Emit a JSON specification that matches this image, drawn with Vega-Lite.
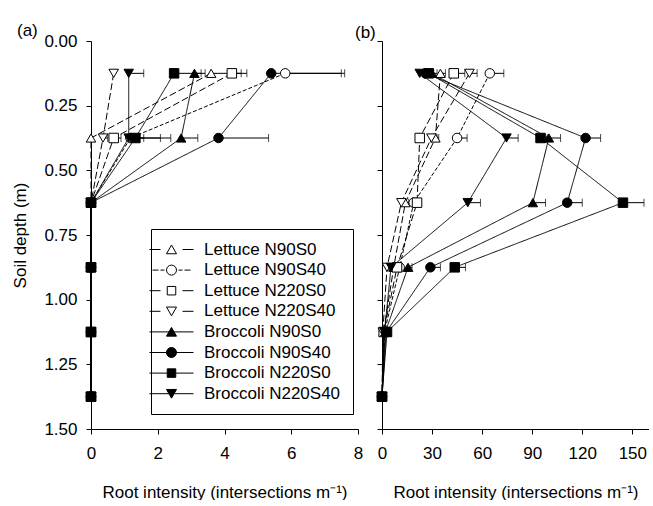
{
  "$schema": "https://vega.github.io/schema/vega-lite/v6.json",
  "padding": {"left": 11, "top": 22, "right": 0, "bottom": 0},
  "bounds": "flush",
  "spacing": 24,
  "background": "white",
  "config": {
    "font": "Liberation Sans",
    "view": {"stroke": null},
    "axis": {
      "domainColor": "black", "tickColor": "black", "labelColor": "black", "titleColor": "black",
      "labelFontSize": 17, "titleFontSize": 17, "titleFontWeight": "normal", "grid": false,
      "tickSize": 5, "labelFont": "Liberation Sans", "titleFont": "Liberation Sans", "domainWidth": 1, "tickWidth": 1
    },
    "title": {"fontSize": 17, "fontWeight": "normal", "anchor": "start", "color": "black", "font": "Liberation Sans", "frame": "group"}
  },
  "datasets": {
    "a": [
      {"series": "Lettuce N90S0", "depth": 0.125, "value": 3.60, "upper": 4.50},
      {"series": "Lettuce N90S40", "depth": 0.125, "value": 5.82, "upper": 7.60},
      {"series": "Lettuce N220S0", "depth": 0.125, "value": 4.22, "upper": 4.67},
      {"series": "Lettuce N220S40", "depth": 0.125, "value": 0.68, "upper": 0.68},
      {"series": "Broccoli N90S0", "depth": 0.125, "value": 3.10, "upper": 3.42},
      {"series": "Broccoli N90S40", "depth": 0.125, "value": 5.40, "upper": 7.50},
      {"series": "Broccoli N220S0", "depth": 0.125, "value": 2.49, "upper": 3.30},
      {"series": "Broccoli N220S40", "depth": 0.125, "value": 1.13, "upper": 1.58},
      {"series": "Lettuce N90S0", "depth": 0.375, "value": 0.00, "upper": 0.00},
      {"series": "Lettuce N90S40", "depth": 0.375, "value": 1.18, "upper": 1.58},
      {"series": "Lettuce N220S0", "depth": 0.375, "value": 0.68, "upper": 0.90},
      {"series": "Lettuce N220S40", "depth": 0.375, "value": 0.36, "upper": 0.50},
      {"series": "Broccoli N90S0", "depth": 0.375, "value": 2.70, "upper": 3.20},
      {"series": "Broccoli N90S40", "depth": 0.375, "value": 3.82, "upper": 5.32},
      {"series": "Broccoli N220S0", "depth": 0.375, "value": 1.33, "upper": 2.08},
      {"series": "Broccoli N220S40", "depth": 0.375, "value": 1.13, "upper": 2.39},
      {"series": "Lettuce N90S0", "depth": 0.625, "value": 0, "upper": 0},
      {"series": "Lettuce N90S40", "depth": 0.625, "value": 0, "upper": 0},
      {"series": "Lettuce N220S0", "depth": 0.625, "value": 0, "upper": 0},
      {"series": "Lettuce N220S40", "depth": 0.625, "value": 0, "upper": 0},
      {"series": "Broccoli N90S0", "depth": 0.625, "value": 0, "upper": 0},
      {"series": "Broccoli N90S40", "depth": 0.625, "value": 0, "upper": 0},
      {"series": "Broccoli N220S0", "depth": 0.625, "value": 0, "upper": 0},
      {"series": "Broccoli N220S40", "depth": 0.625, "value": 0, "upper": 0},
      {"series": "Lettuce N90S0", "depth": 0.875, "value": 0, "upper": 0},
      {"series": "Lettuce N90S40", "depth": 0.875, "value": 0, "upper": 0},
      {"series": "Lettuce N220S0", "depth": 0.875, "value": 0, "upper": 0},
      {"series": "Lettuce N220S40", "depth": 0.875, "value": 0, "upper": 0},
      {"series": "Broccoli N90S0", "depth": 0.875, "value": 0, "upper": 0},
      {"series": "Broccoli N90S40", "depth": 0.875, "value": 0, "upper": 0},
      {"series": "Broccoli N220S0", "depth": 0.875, "value": 0, "upper": 0},
      {"series": "Broccoli N220S40", "depth": 0.875, "value": 0, "upper": 0},
      {"series": "Lettuce N90S0", "depth": 1.125, "value": 0, "upper": 0},
      {"series": "Lettuce N90S40", "depth": 1.125, "value": 0, "upper": 0},
      {"series": "Lettuce N220S0", "depth": 1.125, "value": 0, "upper": 0},
      {"series": "Lettuce N220S40", "depth": 1.125, "value": 0, "upper": 0},
      {"series": "Broccoli N90S0", "depth": 1.125, "value": 0, "upper": 0},
      {"series": "Broccoli N90S40", "depth": 1.125, "value": 0, "upper": 0},
      {"series": "Broccoli N220S0", "depth": 1.125, "value": 0, "upper": 0},
      {"series": "Broccoli N220S40", "depth": 1.125, "value": 0, "upper": 0},
      {"series": "Lettuce N90S0", "depth": 1.375, "value": 0, "upper": 0},
      {"series": "Lettuce N90S40", "depth": 1.375, "value": 0, "upper": 0},
      {"series": "Lettuce N220S0", "depth": 1.375, "value": 0, "upper": 0},
      {"series": "Lettuce N220S40", "depth": 1.375, "value": 0, "upper": 0},
      {"series": "Broccoli N90S0", "depth": 1.375, "value": 0, "upper": 0},
      {"series": "Broccoli N90S40", "depth": 1.375, "value": 0, "upper": 0},
      {"series": "Broccoli N220S0", "depth": 1.375, "value": 0, "upper": 0},
      {"series": "Broccoli N220S40", "depth": 1.375, "value": 0, "upper": 0}
    ],
    "b": [
      {"series": "Lettuce N90S0", "depth": 0.125, "value": 35, "upper": 38},
      {"series": "Lettuce N90S40", "depth": 0.125, "value": 64.6, "upper": 73},
      {"series": "Lettuce N220S0", "depth": 0.125, "value": 43, "upper": 49.6},
      {"series": "Lettuce N220S40", "depth": 0.125, "value": 52.4, "upper": 57},
      {"series": "Broccoli N90S0", "depth": 0.125, "value": 30, "upper": 33},
      {"series": "Broccoli N90S40", "depth": 0.125, "value": 26, "upper": 29},
      {"series": "Broccoli N220S0", "depth": 0.125, "value": 28, "upper": 31},
      {"series": "Broccoli N220S40", "depth": 0.125, "value": 22.6, "upper": 25},
      {"series": "Lettuce N90S0", "depth": 0.375, "value": 32, "upper": 34},
      {"series": "Lettuce N90S40", "depth": 0.375, "value": 45, "upper": 51},
      {"series": "Lettuce N220S0", "depth": 0.375, "value": 22.6, "upper": 25},
      {"series": "Lettuce N220S40", "depth": 0.375, "value": 29.6, "upper": 33},
      {"series": "Broccoli N90S0", "depth": 0.375, "value": 100, "upper": 107},
      {"series": "Broccoli N90S40", "depth": 0.375, "value": 122, "upper": 131},
      {"series": "Broccoli N220S0", "depth": 0.375, "value": 95, "upper": 99},
      {"series": "Broccoli N220S40", "depth": 0.375, "value": 74.6, "upper": 81.6},
      {"series": "Lettuce N90S0", "depth": 0.625, "value": 14, "upper": 16},
      {"series": "Lettuce N90S40", "depth": 0.625, "value": 19, "upper": 21},
      {"series": "Lettuce N220S0", "depth": 0.625, "value": 21, "upper": 23},
      {"series": "Lettuce N220S40", "depth": 0.625, "value": 11.6, "upper": 13},
      {"series": "Broccoli N90S0", "depth": 0.625, "value": 90.4, "upper": 98},
      {"series": "Broccoli N90S40", "depth": 0.625, "value": 111, "upper": 120},
      {"series": "Broccoli N220S0", "depth": 0.625, "value": 144.4, "upper": 157},
      {"series": "Broccoli N220S40", "depth": 0.625, "value": 51.4, "upper": 59},
      {"series": "Lettuce N90S0", "depth": 0.875, "value": 7, "upper": 8},
      {"series": "Lettuce N90S40", "depth": 0.875, "value": 10.6, "upper": 12},
      {"series": "Lettuce N220S0", "depth": 0.875, "value": 9, "upper": 10},
      {"series": "Lettuce N220S40", "depth": 0.875, "value": 3, "upper": 4},
      {"series": "Broccoli N90S0", "depth": 0.875, "value": 15.6, "upper": 18},
      {"series": "Broccoli N90S40", "depth": 0.875, "value": 29, "upper": 35},
      {"series": "Broccoli N220S0", "depth": 0.875, "value": 43.6, "upper": 50},
      {"series": "Broccoli N220S40", "depth": 0.875, "value": 5.4, "upper": 6.5},
      {"series": "Lettuce N90S0", "depth": 1.125, "value": 1, "upper": 1},
      {"series": "Lettuce N90S40", "depth": 1.125, "value": 1.5, "upper": 1.5},
      {"series": "Lettuce N220S0", "depth": 1.125, "value": 1, "upper": 1},
      {"series": "Lettuce N220S40", "depth": 1.125, "value": 0.5, "upper": 0.5},
      {"series": "Broccoli N90S0", "depth": 1.125, "value": 2, "upper": 2},
      {"series": "Broccoli N90S40", "depth": 1.125, "value": 2.5, "upper": 2.5},
      {"series": "Broccoli N220S0", "depth": 1.125, "value": 3, "upper": 3},
      {"series": "Broccoli N220S40", "depth": 1.125, "value": 1.5, "upper": 1.5},
      {"series": "Lettuce N90S0", "depth": 1.375, "value": 0, "upper": 0},
      {"series": "Lettuce N90S40", "depth": 1.375, "value": 0, "upper": 0},
      {"series": "Lettuce N220S0", "depth": 1.375, "value": 0, "upper": 0},
      {"series": "Lettuce N220S40", "depth": 1.375, "value": 0, "upper": 0},
      {"series": "Broccoli N90S0", "depth": 1.375, "value": 0, "upper": 0},
      {"series": "Broccoli N90S40", "depth": 1.375, "value": 0, "upper": 0},
      {"series": "Broccoli N220S0", "depth": 1.375, "value": 0, "upper": 0},
      {"series": "Broccoli N220S40", "depth": 1.375, "value": 0, "upper": 0}
    ]
  },
  "resolve": {"scale": {"shape": "independent", "fill": "independent", "strokeDash": "independent"}, "legend": {"shape": "independent", "fill": "independent", "strokeDash": "independent"}},
  "hconcat": [
    {
      "title": {"text": "(a)", "dx": -74, "offset": 6, "dy": 14},
      "width": 267,
      "height": 388,
      "data": {"name": "a"},
      "encoding": {
        "y": {"field": "depth", "type": "quantitative",
          "scale": {"domain": [0, 1.5], "reverse": true, "nice": false, "zero": false},
          "axis": {"values": [0, 0.25, 0.5, 0.75, 1, 1.25, 1.5], "format": ".2f", "title": "Soil depth (m)", "titlePadding": 14, "labelPadding": 9}},
        "x": {"field": "value", "type": "quantitative",
          "scale": {"domain": [0, 8], "nice": false},
          "axis": {"values": [0, 2, 4, 6, 8], "title": "Root intensity (intersections m⁻¹)", "labelPadding": 11, "titlePadding": 23, "labelFlush": false}}
      },
      "layer": [
        {
          "mark": {"type": "line", "strokeWidth": 1, "color": "black"},
          "encoding": {
            "detail": {"field": "series"},
            "order": {"field": "depth", "type": "quantitative"},
            "strokeDash": {"field": "series", "type": "nominal",
              "scale": {"domain": ["Lettuce N90S0", "Lettuce N90S40", "Lettuce N220S0", "Lettuce N220S40", "Broccoli N90S0", "Broccoli N90S40", "Broccoli N220S0", "Broccoli N220S40"],
                "range": [[7, 3], [4, 2], [7, 3], [7, 3], [1, 0], [1, 0], [1, 0], [1, 0]]},
              "legend": null}
          }
        },
        {
          "transform": [{"filter": "datum.upper > datum.value"}],
          "mark": {"type": "rule", "color": "black", "strokeWidth": 1},
          "encoding": {"x2": {"field": "upper"}}
        },
        {
          "transform": [{"filter": "datum.upper > datum.value"}],
          "mark": {"type": "tick", "orient": "vertical", "color": "black", "size": 8, "thickness": 1},
          "encoding": {"x": {"field": "upper", "type": "quantitative", "axis": {"values": [0, 2, 4, 6, 8], "title": "Root intensity (intersections m⁻¹)", "labelPadding": 11, "titlePadding": 23, "labelFlush": false}}}
        },
        {
          "mark": {"type": "point", "filled": true, "stroke": "black", "strokeWidth": 1, "size": 90, "opacity": 1},
          "encoding": {
            "shape": {"field": "series", "type": "nominal",
              "scale": {"domain": ["Lettuce N90S0", "Lettuce N90S40", "Lettuce N220S0", "Lettuce N220S40", "Broccoli N90S0", "Broccoli N90S40", "Broccoli N220S0", "Broccoli N220S40"],
                "range": ["triangle-up", "circle", "square", "triangle-down", "triangle-up", "circle", "square", "triangle-down"]},
              "legend": null},
            "fill": {"field": "series", "type": "nominal",
              "scale": {"domain": ["Lettuce N90S0", "Lettuce N90S40", "Lettuce N220S0", "Lettuce N220S40", "Broccoli N90S0", "Broccoli N90S40", "Broccoli N220S0", "Broccoli N220S40"],
                "range": ["white", "white", "white", "white", "black", "black", "black", "black"]},
              "legend": null}
          }
        },
        {
          "transform": [{"filter": "datum.depth < 0"}],
          "mark": {"type": "point", "filled": true, "stroke": "black", "strokeWidth": 1, "size": 100},
          "encoding": {
            "shape": {"field": "series", "type": "nominal",
              "scale": {"domain": ["Lettuce N90S0", "Lettuce N90S40", "Lettuce N220S0", "Lettuce N220S40", "Broccoli N90S0", "Broccoli N90S40", "Broccoli N220S0", "Broccoli N220S40"],
                "range": [
                  "M-4.4,0L-2.2,0M2.2,0L4.4,0M0,-0.9L1,0.85L-1,0.85Z",
                  "M-3.8,0L-2.6,0M-2.2,0L-1.4,0M1.4,0L2.2,0M2.6,0L3.8,0M1,0A1,1 0 1,1 -1,0A1,1 0 1,1 1,0Z",
                  "M-4.4,0L-2.2,0M2.2,0L4.4,0M-0.85,-0.85L0.85,-0.85L0.85,0.85L-0.85,0.85Z",
                  "M-4.4,0L-2.2,0M2.2,0L4.4,0M0,0.9L1,-0.85L-1,-0.85Z",
                  "M-4.4,0L4.4,0M0,-0.9L1,0.85L-1,0.85Z",
                  "M-4.4,0L4.4,0M1,0A1,1 0 1,1 -1,0A1,1 0 1,1 1,0Z",
                  "M-4.4,0L4.4,0M-0.85,-0.85L0.85,-0.85L0.85,0.85L-0.85,0.85Z",
                  "M-4.4,0L4.4,0M0,0.9L1,-0.85L-1,-0.85Z"
                ]},
              "legend": {
                "orient": "none", "legendX": 60, "legendY": 188, "title": null,
                "symbolSize": 100, "symbolStrokeWidth": 1, "symbolOpacity": 1,
                "symbolFillColor": "white", "symbolStrokeColor": "black",
                "labelFontSize": 17, "labelFont": "Liberation Sans", "labelColor": "black", "labelOffset": 24,
                "labelExpr": "datum.label + '\u00a0\u00a0'",
                "strokeColor": "black", "fillColor": "white", "padding": 12, "rowPadding": 2.6
              }
            },
            "fill": {"field": "series", "type": "nominal",
              "scale": {"domain": ["Lettuce N90S0", "Lettuce N90S40", "Lettuce N220S0", "Lettuce N220S40", "Broccoli N90S0", "Broccoli N90S40", "Broccoli N220S0", "Broccoli N220S40"],
                "range": ["white", "white", "white", "white", "black", "black", "black", "black"]},
              "legend": {
                "orient": "none", "legendX": 60, "legendY": 188, "title": null,
                "symbolSize": 100, "symbolStrokeWidth": 1, "symbolOpacity": 1,
                "symbolFillColor": "white", "symbolStrokeColor": "black",
                "labelFontSize": 17, "labelFont": "Liberation Sans", "labelColor": "black", "labelOffset": 24,
                "labelExpr": "datum.label + '\u00a0\u00a0'",
                "strokeColor": "black", "fillColor": "white", "padding": 12, "rowPadding": 2.6
              }
            }
          }
        }
      ],
      "resolve": {"scale": {"shape": "independent", "fill": "independent"}}
    },
    {
      "title": {"text": "(b)", "dx": -27, "offset": 2, "dy": 3},
      "width": 267,
      "height": 388,
      "data": {"name": "b"},
      "encoding": {
        "y": {"field": "depth", "type": "quantitative",
          "scale": {"domain": [0, 1.5], "reverse": true, "nice": false, "zero": false},
          "axis": {"values": [0, 0.25, 0.5, 0.75, 1, 1.25, 1.5], "labels": false, "title": null}},
        "x": {"field": "value", "type": "quantitative",
          "scale": {"domain": [0, 160], "nice": false},
          "axis": {"values": [0, 30, 60, 90, 120, 150], "title": "Root intensity (intersections m⁻¹)", "labelPadding": 11, "titlePadding": 23, "labelFlush": false}}
      },
      "layer": [
        {
          "mark": {"type": "line", "strokeWidth": 1, "color": "black"},
          "encoding": {
            "detail": {"field": "series"},
            "order": {"field": "depth", "type": "quantitative"},
            "strokeDash": {"field": "series", "type": "nominal",
              "scale": {"domain": ["Lettuce N90S0", "Lettuce N90S40", "Lettuce N220S0", "Lettuce N220S40", "Broccoli N90S0", "Broccoli N90S40", "Broccoli N220S0", "Broccoli N220S40"],
                "range": [[7, 3], [4, 2], [7, 3], [7, 3], [1, 0], [1, 0], [1, 0], [1, 0]]},
              "legend": null}
          }
        },
        {
          "transform": [{"filter": "datum.upper > datum.value"}],
          "mark": {"type": "rule", "color": "black", "strokeWidth": 1},
          "encoding": {"x2": {"field": "upper"}}
        },
        {
          "transform": [{"filter": "datum.upper > datum.value"}],
          "mark": {"type": "tick", "orient": "vertical", "color": "black", "size": 8, "thickness": 1},
          "encoding": {"x": {"field": "upper", "type": "quantitative", "axis": {"values": [0, 30, 60, 90, 120, 150], "title": "Root intensity (intersections m⁻¹)", "labelPadding": 11, "titlePadding": 23, "labelFlush": false}}}
        },
        {
          "mark": {"type": "point", "filled": true, "stroke": "black", "strokeWidth": 1, "size": 90, "opacity": 1},
          "encoding": {
            "shape": {"field": "series", "type": "nominal",
              "scale": {"domain": ["Lettuce N90S0", "Lettuce N90S40", "Lettuce N220S0", "Lettuce N220S40", "Broccoli N90S0", "Broccoli N90S40", "Broccoli N220S0", "Broccoli N220S40"],
                "range": ["triangle-up", "circle", "square", "triangle-down", "triangle-up", "circle", "square", "triangle-down"]},
              "legend": null},
            "fill": {"field": "series", "type": "nominal",
              "scale": {"domain": ["Lettuce N90S0", "Lettuce N90S40", "Lettuce N220S0", "Lettuce N220S40", "Broccoli N90S0", "Broccoli N90S40", "Broccoli N220S0", "Broccoli N220S40"],
                "range": ["white", "white", "white", "white", "black", "black", "black", "black"]},
              "legend": null}
          }
        }
      ]
    }
  ]
}
